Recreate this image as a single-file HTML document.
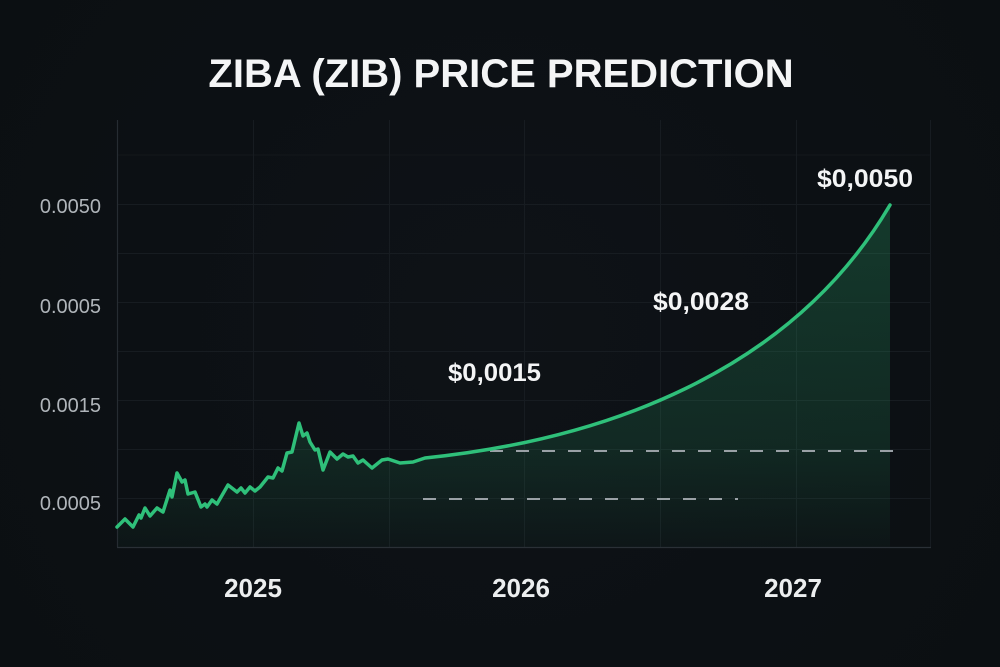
<!DOCTYPE html>
<html>
<head>
<meta charset="utf-8">
<style>
html,body{margin:0;padding:0;background:#0c1014;}
svg{display:block;}
text{font-family:"Liberation Sans",Arial,sans-serif;}
</style>
</head>
<body>
<svg width="1000" height="667" viewBox="0 0 1000 667" xmlns="http://www.w3.org/2000/svg">
  <defs>
    <linearGradient id="fillg" x1="0" y1="200" x2="0" y2="547" gradientUnits="userSpaceOnUse">
      <stop offset="0" stop-color="#2fc07a" stop-opacity="0.24"/>
      <stop offset="0.7" stop-color="#2fc07a" stop-opacity="0.14"/>
      <stop offset="1" stop-color="#2fc07a" stop-opacity="0.03"/>
    </linearGradient>
    <radialGradient id="bgg" cx="500" cy="330" r="600" gradientUnits="userSpaceOnUse">
      <stop offset="0" stop-color="#0e1217"/>
      <stop offset="1" stop-color="#0b0f12"/>
    </radialGradient>
  </defs>
  <rect x="0" y="0" width="1000" height="667" fill="url(#bgg)"/>

  <!-- Title -->
  <text x="501" y="87" text-anchor="middle" font-size="40" font-weight="bold" fill="#f4f5f6">ZIBA (ZIB) PRICE PREDICTION</text>

  <!-- grid -->
  <g stroke="#171c21" stroke-width="1">
    <line x1="117" y1="155" x2="930" y2="155" stroke="#13171b"/>
    <line x1="117" y1="204.5" x2="930" y2="204.5"/>
    <line x1="117" y1="253.5" x2="930" y2="253.5"/>
    <line x1="117" y1="302.5" x2="930" y2="302.5"/>
    <line x1="117" y1="351.5" x2="930" y2="351.5"/>
    <line x1="117" y1="400.5" x2="930" y2="400.5"/>
    <line x1="117" y1="449.5" x2="930" y2="449.5"/>
    <line x1="117" y1="498.5" x2="930" y2="498.5"/>
    <line x1="253.5" y1="120" x2="253.5" y2="547"/>
    <line x1="389.5" y1="120" x2="389.5" y2="547"/>
    <line x1="524.5" y1="120" x2="524.5" y2="547"/>
    <line x1="660.5" y1="120" x2="660.5" y2="547"/>
    <line x1="796.5" y1="120" x2="796.5" y2="547"/>
    <line x1="930.5" y1="120" x2="930.5" y2="547"/>
  </g>

  <!-- fill -->
  <path fill="url(#fillg)" d="M117,527 L125,519 L133,527 L139,515 L141,518 L145,508 L150,516 L157,508 L163,512 L170,490 L172,497 L177,473 L182,482 L185,480 L188,494 L195,492 L201,507 L205,504 L207,507 L212,500 L217,504 L228,485 L237,492 L241,488 L245,493 L250,487 L255,491 L260,487 L268,477 L273,478 L278,468 L282,471 L287,453 L292,452 L299,423 L303,436 L307,433 L310,442 L315,450 L318,449 L323,470 L330,452 L337,459 L343,454 L348,457 L353,456 L358,463 L363,460 L372,468 L382,460 L388,459 L400,463 L413,462 L425,458 C600,440 790,375 890,205 L890,547 L117,547 Z"/>

  <!-- dashed lines -->
  <line x1="490" y1="451" x2="903" y2="451" stroke="#9aa1a6" stroke-width="2" stroke-dasharray="13 13"/>
  <line x1="423" y1="499" x2="738" y2="499" stroke="#9aa1a6" stroke-width="2" stroke-dasharray="13 13"/>

  <!-- axes -->
  <line x1="117.5" y1="120" x2="117.5" y2="547" stroke="#262c32" stroke-width="1.2"/>
  <line x1="117" y1="547.5" x2="931" y2="547.5" stroke="#2a3036" stroke-width="1.2"/>

  <!-- series line -->
  <path fill="none" stroke="#2fc07a" stroke-width="3.5" stroke-linejoin="round" stroke-linecap="round" d="M117,527 L125,519 L133,527 L139,515 L141,518 L145,508 L150,516 L157,508 L163,512 L170,490 L172,497 L177,473 L182,482 L185,480 L188,494 L195,492 L201,507 L205,504 L207,507 L212,500 L217,504 L228,485 L237,492 L241,488 L245,493 L250,487 L255,491 L260,487 L268,477 L273,478 L278,468 L282,471 L287,453 L292,452 L299,423 L303,436 L307,433 L310,442 L315,450 L318,449 L323,470 L330,452 L337,459 L343,454 L348,457 L353,456 L358,463 L363,460 L372,468 L382,460 L388,459 L400,463 L413,462 L425,458 C600,440 790,375 890,205"/>

  <!-- y labels -->
  <g font-size="20" fill="#b0b5ba" text-anchor="end">
    <text x="101" y="213">0.0050</text>
    <text x="101" y="313">0.0005</text>
    <text x="101" y="412">0.0015</text>
    <text x="101" y="510">0.0005</text>
  </g>

  <!-- x labels -->
  <g font-size="26" font-weight="bold" fill="#eceeef" text-anchor="middle">
    <text x="253" y="597">2025</text>
    <text x="521" y="597">2026</text>
    <text x="793" y="597">2027</text>
  </g>

  <!-- annotations -->
  <g font-size="25" font-weight="bold" fill="#f4f5f6">
    <text x="448" y="381" textLength="93" lengthAdjust="spacingAndGlyphs">$0,0015</text>
    <text x="653" y="310" textLength="96" lengthAdjust="spacingAndGlyphs">$0,0028</text>
    <text x="817" y="187" textLength="96" lengthAdjust="spacingAndGlyphs">$0,0050</text>
  </g>
</svg>
</body>
</html>
